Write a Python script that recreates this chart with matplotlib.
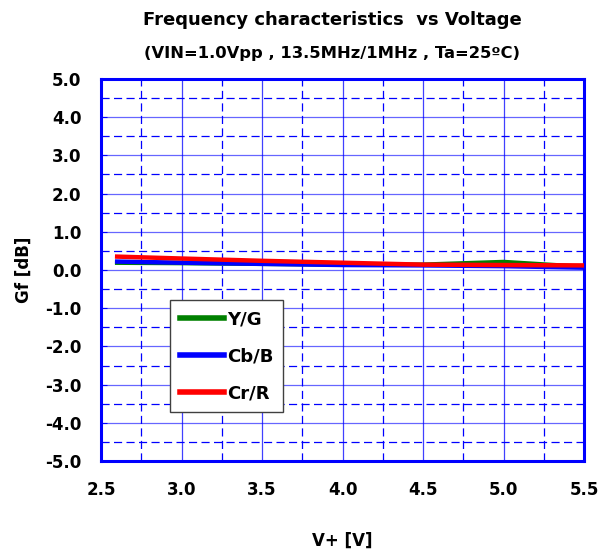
import numpy as np
import matplotlib.pyplot as plt

plt.rcParams['font.family'] = ['DejaVu Sans']
plt.rcParams['font.weight'] = 'bold'

# supply voltage (V) and gain flatness (dB)
voltage = [2.6, 3.0, 3.5, 4.0, 4.5, 5.0, 5.5]
gf_y = [0.19, 0.18, 0.16, 0.14, 0.14, 0.21, 0.08]
gf_cb = [0.22, 0.19, 0.16, 0.13, 0.12, 0.10, 0.06]
gf_cr = [0.35, 0.30, 0.24, 0.19, 0.14, 0.13, 0.12]

fig = plt.figure(figsize=(5.98, 5.51), dpi=100)
ax = fig.add_axes([0.169, 0.163, 0.808, 0.694])

# grid: solid major, dashed minor
for x in np.arange(3.0, 5.5, 0.5):
    ax.axvline(x, color='#0000ff', lw=0.9, alpha=0.75, zorder=1)
for x in np.arange(2.75, 5.5, 0.5):
    ax.axvline(x, color='#0000ff', lw=0.9, ls=(0, (6.5, 3.5)), zorder=1)
for y in np.arange(-4.0, 5.0, 1.0):
    ax.axhline(y, color='#0000ff', lw=0.9, alpha=0.6, zorder=1)
for y in np.arange(-4.5, 5.0, 1.0):
    ax.axhline(y, color='#0000ff', lw=0.9, ls=(0, (6.5, 3.5)), zorder=1)

ax.plot(voltage, gf_y, color='#008000', lw=3.2, label='Y/G', zorder=3)
ax.plot(voltage, gf_cb, color='#0000ff', lw=3.2, label='Cb/B', zorder=4)
ax.plot(voltage, gf_cr, color='#ff0000', lw=3.2, label='Cr/R', zorder=5)

ax.set_xlim(2.5, 5.5)
ax.set_ylim(-5.0, 5.0)
ax.set_xticks(np.arange(2.5, 5.51, 0.5))
ax.set_yticks(np.arange(-5.0, 5.01, 1.0))
ax.set_xticklabels([f'{v:.1f}' for v in np.arange(2.5, 5.51, 0.5)])
ax.set_yticklabels([f'{v:.1f}' for v in np.arange(-5.0, 5.01, 1.0)])
ax.tick_params(axis='x', length=0, labelsize=12, pad=14)
ax.tick_params(axis='y', direction='in', length=4, color='#0000ff', labelsize=12, pad=14)
for lab in ax.get_xticklabels() + ax.get_yticklabels():
    lab.set_fontweight('bold')
for s in ax.spines.values():
    s.set_color('#0000ff')
    s.set_linewidth(2.2)

ax.set_xlabel('V+ [V]', fontsize=12, fontweight='bold', labelpad=24)
ax.set_ylabel('Gf [dB]', fontsize=12, fontweight='bold', labelpad=9)

fig.text(0.555, 0.963, 'Frequency characteristics  vs Voltage',
         ha='center', va='center', fontsize=13, fontweight='bold')
fig.text(0.555, 0.903, '(VIN=1.0Vpp , 13.5MHz/1MHz , Ta=25ºC)',
         ha='center', va='center', fontsize=11.8, fontweight='bold')

leg = ax.legend(loc='upper left', bbox_to_anchor=(0.143, 0.421), borderaxespad=0,
                fontsize=13, frameon=True, fancybox=False, handlelength=2.45,
                handletextpad=0.15, labelspacing=1.05, borderpad=0.55, framealpha=1)
leg.get_frame().set_edgecolor('#404040')
leg.get_frame().set_linewidth(1)
for t in leg.get_texts():
    t.set_fontweight('bold')
for h in leg.get_lines():
    h.set_linewidth(4)
leg.set_zorder(10)

plt.savefig('out.png', dpi=100)
